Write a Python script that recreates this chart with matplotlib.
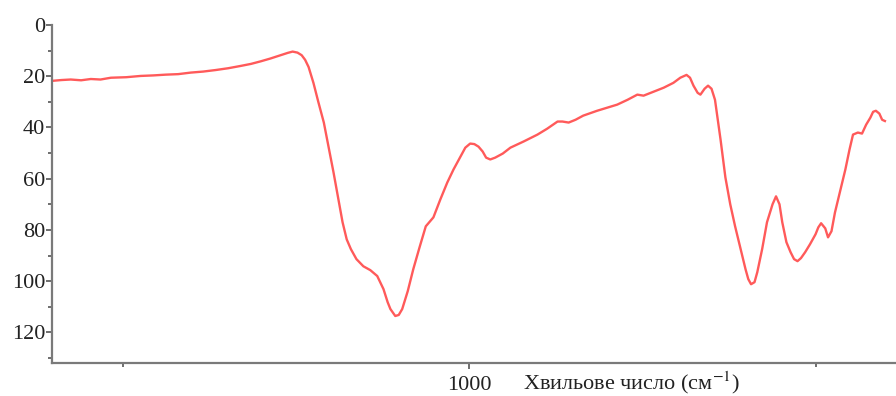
import matplotlib.pyplot as plt
from matplotlib.ticker import MultipleLocator, FixedLocator

plt.rcParams['mathtext.fontset'] = 'stix'

# wavenumber, cm-1
wavenumber = [
    399, 412, 425, 440, 454, 468, 483, 505, 526, 544, 562, 580, 598, 616,
    634, 652, 670, 685, 699, 713, 728, 738, 745, 752, 758, 763, 768, 775,
    782, 790, 797, 804, 811, 817, 823, 829, 837, 847, 857, 867, 876, 882,
    886, 893, 898, 903, 911, 919, 928, 937, 948, 958, 968, 977, 987, 994,
    1001, 1007, 1013, 1019, 1024, 1030, 1037, 1048, 1059, 1078, 1098, 1112,
    1127, 1134, 1143, 1153, 1164, 1184, 1213, 1228, 1242, 1251, 1265, 1280,
    1294, 1304, 1313, 1318, 1323, 1329, 1333, 1339, 1344, 1349, 1354, 1362,
    1369, 1376, 1383, 1391, 1398, 1402, 1406, 1411, 1415, 1422, 1429, 1437,
    1442, 1447, 1451, 1457, 1463, 1468, 1473, 1478, 1484, 1491, 1499, 1503,
    1507, 1513, 1517, 1522, 1527, 1535, 1542, 1548, 1553, 1560, 1566, 1572,
    1578, 1582, 1586, 1591, 1595, 1599,
]
signal = [
    21.8, 21.5, 21.3, 21.6, 21.1, 21.3, 20.6, 20.4, 19.9, 19.7, 19.4, 19.2,
    18.6, 18.2, 17.6, 16.9, 16.0, 15.2, 14.2, 13.1, 11.8, 10.9, 10.4, 10.8,
    11.8, 13.6, 16.4, 22.6, 30.0, 38.1, 47.9, 57.6, 68.1, 77.0, 83.7, 87.5,
    91.4, 94.2, 95.7, 98.0, 103.1, 108.2, 110.9, 113.6, 113.2, 110.9, 103.9,
    95.3, 86.8, 78.6, 75.1, 68.1, 61.5, 56.4, 51.4, 47.9, 46.3, 46.5, 47.5,
    49.4, 51.8, 52.5, 51.8, 50.2, 47.9, 45.5, 42.8, 40.5, 37.7, 37.7, 38.1,
    37.0, 35.4, 33.5, 31.1, 29.2, 27.2, 27.6, 26.1, 24.5, 22.6, 20.6, 19.5,
    20.6, 23.7, 26.5, 27.2, 24.9, 23.7, 24.9, 29.2, 44.7, 59.5, 70.0, 78.6,
    87.5, 95.3, 99.2, 101.2, 100.4, 96.5, 87.5, 77.0, 70.0, 66.9, 70.0, 77.0,
    84.8, 88.7, 91.4, 92.2, 91.0, 88.7, 85.6, 81.7, 79.0, 77.4, 79.4, 82.9,
    80.5, 73.2, 64.2, 56.4, 48.6, 42.8, 42.0, 42.4, 38.9, 36.2, 33.9, 33.5,
    34.6, 37.0, 37.5,
]

x_major = [1000]
x_minor = [500, 1500]
x_label = 'Хвильове число (см$^{-1}$)'

fig = plt.figure(figsize=(8.96, 3.96), dpi=100)
ax = fig.add_axes([0.058, 0.083, 0.942, 0.854])

ax.plot(wavenumber, signal, color='#ff5a5a', lw=1.7)

ax.set_xlim(398, 1615)
ax.set_ylim(132, 0)

ax.xaxis.set_major_locator(FixedLocator(x_major))
ax.xaxis.set_minor_locator(FixedLocator(x_minor))
ax.yaxis.set_major_locator(MultipleLocator(20))
ax.yaxis.set_minor_locator(MultipleLocator(10))

for side in ('top', 'right'):
    ax.spines[side].set_visible(False)
for side in ('left', 'bottom'):
    ax.spines[side].set_color('#7a7a7a')
    ax.spines[side].set_linewidth(1.6)

ax.tick_params(axis='both', which='major', direction='out', length=4,
               width=1.2, color='#555555', labelsize=16,
               labelcolor='#222222')
ax.tick_params(axis='y', which='major', pad=1)
ax.tick_params(axis='x', which='major', pad=5)
ax.tick_params(axis='both', which='minor', direction='out', length=3,
               width=1.2, color='#555555')
for lbl in ax.get_xticklabels() + ax.get_yticklabels():
    lbl.set_family('Liberation Serif')

ax.set_xlabel(x_label, family='Liberation Serif', fontsize=16,
              color='#222222', ha='left', va='center')
ax.xaxis.set_label_coords(0.558, -0.058)

fig.savefig('out.png', dpi=100)
